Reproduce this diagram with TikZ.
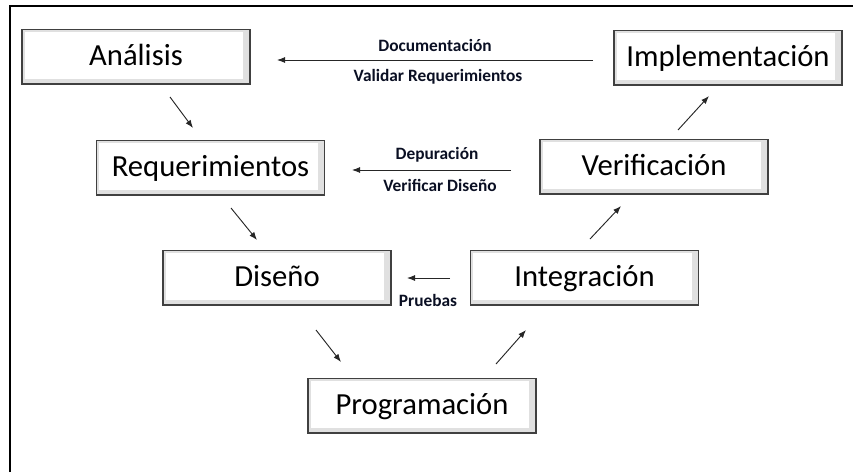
\documentclass[tikz,border=0pt]{standalone}
\usepackage{fontspec}
\setmainfont{Carlito}
\usetikzlibrary{arrows.meta}
\definecolor{lblcol}{RGB}{10,15,35}
\tikzset{
  stage/.style={draw=black!75, line width=1pt, fill=black!12, minimum width=171pt, minimum height=41pt,
    inner sep=0pt, text height=18.5pt, text depth=5.7pt, font=\fontsize{23}{26}\selectfont,
    path picture={\fill[white] ([xshift=2pt,yshift=-2pt]path picture bounding box.north west) rectangle ([xshift=-5pt,yshift=4pt]path picture bounding box.south east);}},
  flow/.style={-{Latex[length=6pt,width=4.5pt]}, line width=0.7pt, black!85},
  lbl/.style={font=\bfseries\fontsize{13}{15}\selectfont, text=lblcol, inner sep=0pt},
}
\begin{document}
\begin{tikzpicture}[x=0.75pt,y=-0.75pt]
\useasboundingbox (0,0) rectangle (853,472);
\draw[line width=1.6pt] (10,472) -- (10,6) -- (853,6);
% stages
\node[stage] (ana) at (136,56.5) {Análisis};
\node[stage] (req) at (210.5,167.5) {Requerimientos};
\node[stage] (dis) at (277,277.5) {Diseño};
\node[stage] (pro) at (422,405.5) {Programación};
\node[stage] (int) at (584.5,277.5) {Integración};
\node[stage] (ver) at (654,166.5) {Verificación};
\node[stage] (imp) at (728,57.5) {Implementación};
% arrow end coordinates
\coordinate (a1) at (170,97);  \coordinate (a2) at (193,128);
\coordinate (b1) at (231,208); \coordinate (b2) at (257,240);
\coordinate (c1) at (316,330); \coordinate (c2) at (341,362);
\coordinate (d1) at (496,364); \coordinate (d2) at (526,330);
\coordinate (e1) at (590,239); \coordinate (e2) at (621,206);
\coordinate (f1) at (678,130); \coordinate (f2) at (709,96);
\coordinate (g1) at (593,60);  \coordinate (g2) at (277,60);
\coordinate (h1) at (511,170); \coordinate (h2) at (352,170);
\coordinate (i1) at (450,278); \coordinate (i2) at (407,278);
\draw[flow] (a1) -- (a2);
\draw[flow] (b1) -- (b2);
\draw[flow] (c1) -- (c2);
\draw[flow] (d1) -- (d2);
\draw[flow] (e1) -- (e2);
\draw[flow] (f1) -- (f2);
\draw[flow] (g1) -- (g2);
\draw[flow] (h1) -- (h2);
\draw[flow] (i1) -- (i2);
% labels
\node[lbl] (l1) at (435,45) {Documentación};
\node[lbl] (l2) at (438,77) {Validar Requerimientos};
\node[lbl] (l3) at (437,155) {Depuración};
\node[lbl] (l4) at (440,185) {Verificar Diseño};
\node[lbl] (l5) at (428,300) {Pruebas};
\end{tikzpicture}
\end{document}
